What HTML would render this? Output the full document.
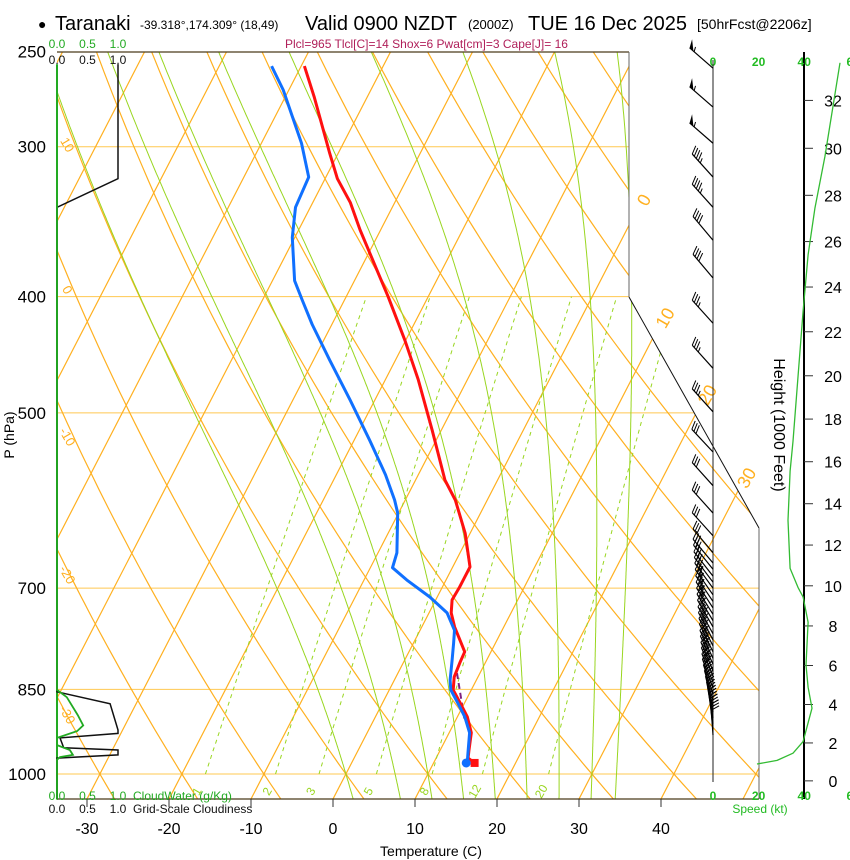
<!DOCTYPE html>
<html><head><meta charset="utf-8"><title>Taranaki Skew-T</title>
<style>
html,body{margin:0;padding:0;background:#fff;}
svg{display:block;font-family:"Liberation Sans",sans-serif;}
</style></head>
<body>
<svg id="chart" width="850" height="860" viewBox="0 0 850 860" xmlns="http://www.w3.org/2000/svg">
<defs><clipPath id="plotclip"><polygon points="57,52 629,52 629,297 759,528 759,799 57,799"/></clipPath></defs>
<rect width="850" height="860" fill="#fff"/>
<g>
<text x="38" y="29" font-size="14">●</text>
<text x="55" y="30" font-size="20">Taranaki</text>
<text x="140" y="29" font-size="12">-39.318°,174.309° (18,49)</text>
<text x="305" y="30" font-size="20">Valid 0900 NZDT</text>
<text x="468" y="29" font-size="13">(2000Z)</text>
<text x="528" y="30" font-size="20">TUE 16 Dec 2025</text>
<text x="697" y="29" font-size="14">[50hrFcst@2206z]</text>
<text x="285" y="48" font-size="12" fill="#b0205a">Plcl=965 Tlcl[C]=14 Shox=6 Pwat[cm]=3 Cape[J]= 16</text>
</g>
<g id="grid" clip-path="url(#plotclip)"></g>
<g id="fg"></g>
</svg>
<script>
// ---- data ----
const pressureLevels = [250,300,400,500,700,850,1000];
const tempTicks = [-30,-20,-10,0,10,20,30,40];
const isothermLabels = [0,10,20,30];
const mixingRatios = [1,2,3,5,8,12,20];
const thetaWs = [0,6,10,14,18,22,26,30,33];
const heightTicks = [0,2,4,6,8,10,12,14,16,18,20,22,24,26,28,30,32];
const speedTickLabels = ["0","20","40","6"];
const speedTickVals = [0,20,40,60];

const tempP = [257,273,304,319,334,352,400,435,469,517,569,591,630,672,698,716,734,754,791,808,830,851,873,896,924,955,970];
const tempT = [-49.6,-46.4,-41.0,-38.5,-35.4,-32.5,-24.9,-20.1,-16.0,-11.1,-6.4,-3.9,-0.6,2.1,2.1,2.0,2.7,4.0,6.8,6.9,7.1,7.8,9.5,11.2,12.7,13.5,13.9];
const dewP = [257,269,298,318,337,357,388,403,422,452,488,527,563,591,606,654,673,689,712,734,759,778,804,835,851,873,896,924,955,979];
const dewT = [-53.6,-50.7,-45.1,-42.1,-41.8,-40.3,-37.3,-35.1,-32.4,-28.0,-23.0,-18.1,-14.0,-11.3,-10.1,-7.7,-7.3,-4.8,-0.9,2.2,4.2,4.9,5.8,6.8,7.5,9.2,10.9,12.5,13.4,14.1];
const sfcP = 979, sfcT = 15.0, sfcTd = 14.1;
const parcelP = [824,902];
const parcelT = [7.2,11.1];

const cloudP = [256,319,337,854,874,919,925,933,951,955,964,970,1049];
const cloudV = [1,1,0,0,0.87,1,1,0.05,0.11,1,1,0,0];
const cwP = [256,851,863,893,911,921,933,946,955,964,968,973,1049];
const cwV = [0,0,0.16,0.34,0.43,0.33,0,0,0.21,0.26,0.05,0,0];

const barbP = [258,278,298,318,337,359,386,421,459,499,539,575,606,633,654,667,675,684,692,700,709,718,727,736,745,754,764,773,782,791,801,810,820,829,839,848,858,868,878,888,898,908,918,928];
const barbSpd = [55,55,55,45,45,40,40,35,35,35,30,30,30,30,30,30,30,30,30,35,35,35,35,35,35,35,40,40,40,40,40,40,40,40,40,40,40,40,40,40,40,35,35,30];
const barbDir = [311,311,311,318,318,320,320,318,318,318,317,318,318,318,320,320,321,322,323,324,325,326,327,328,329,330,331,332,333,334,335,336,337,338,339,340,342,344,346,348,350,352,354,356];

const spdH = [33.55,29.65,27.44,25.42,22.93,16.96,15.55,13.2,10.86,9.92,9.45,8.18,6.02,4.89,3.81,2.07,1.46,1.08,0.89];
const spdV = [55.7,49.1,44.7,41.7,39.5,35.1,33.8,32.9,33.8,37.3,39.5,41.7,40.8,41.7,43.4,39.5,35.1,28.1,19.3];

// ---- axis functions ----
const NS='http://www.w3.org/2000/svg';
function Y(p){return 774-521*Math.log(1000/p);}
function X(T,p){return 333+8.2*T+0.516*(799-Y(p));}
function Yh(kft){const hm=kft*304.8;const p=1013.25*Math.pow(1-2.25577e-5*hm,5.25588);return Y(p);}
function SX(s){return 713+2.28*s;}
function CX(v){return 57+61*v;}
function mk(tag,attrs,parent){const e=document.createElementNS(NS,tag);for(const k in attrs)e.setAttribute(k,attrs[k]);parent.appendChild(e);return e;}
function pl(pts){return pts.map(q=>q[0].toFixed(1)+','+q[1].toFixed(1)).join(' ');}
const grid=document.getElementById('grid');
const fg=document.getElementById('fg');
const OR='#ffb020', GR='#99d620';

pressureLevels.forEach(p=>{ if(p===250) return;
 const l=mk('line',{x1:57,x2:760,y1:Y(p),y2:Y(p),stroke:'#ffc850','stroke-width':1},grid);
 
 
});
for(let T=-110;T<=50;T+=10){
 const l=mk('line',{x1:X(T,1049),y1:Y(1049),x2:X(T,250),y2:Y(250),stroke:OR,'stroke-width':1.2},grid);
 
 
}
for(let th=-40;th<=170;th+=10){
 const pts=[];for(let p=1050;p>=245;p-=10){const T=(th+273.15)*Math.pow(p/1000,0.2857)-273.15;pts.push([X(T,p),Y(p)]);}
 const l=mk('polyline',{points:pl(pts),fill:'none',stroke:OR,'stroke-width':1.2},grid);
 
 
}
function es(T){return 6.112*Math.exp(17.67*T/(T+243.5));}
function dTdp(T,p){const Tk=T+273.15;const e=es(T);const rs=0.622*e/(p-e);return (287*Tk+2.5e6*rs)/(p*(1005+2.5e6*2.5e6*rs*0.622/(287*Tk*Tk)));}
thetaWs.forEach(tw=>{
 const up=[];let T=tw;for(let p=1000;p>=250;p-=2){up.push([X(T,p),Y(p)]);T-=dTdp(T,p)*2;}
 const dn=[];T=tw;for(let p=1000;p<=1050;p+=2){dn.push([X(T,p),Y(p)]);T+=dTdp(T,p)*2;}
 const pts=dn.reverse().concat(up);
 const l=mk('polyline',{points:pl(pts),fill:'none',stroke:GR,'stroke-width':1},grid);
 
 
});
function Tw(w,p){const e=w*p/(622+w);const a=Math.log(e/6.112);return 243.5*a/(17.67-a);}
mixingRatios.forEach(w=>{
 const pts=[];for(let p=1000;p>=400;p-=10){pts.push([X(Tw(w,p),p),Y(p)]);}
 const l=mk('polyline',{points:pl(pts),fill:'none',stroke:GR,'stroke-width':1,'stroke-dasharray':'4,4'},grid);
 
 
 const lx=X(Tw(w,1030),1030), ly=Y(1030)+4;
 const t=mk('text',{x:lx,y:ly,'font-size':12,fill:GR,'text-anchor':'middle',transform:`rotate(-60 ${lx} ${ly})`},fg);
 t.textContent=w;
 
 
});
{const pts=parcelP.map((p,i)=>[X(parcelT[i],p),Y(p)]);
 const l=mk('polyline',{points:pl(pts),fill:'none',stroke:'#802080','stroke-width':2,'stroke-dasharray':'6,4'},grid);
 
 }
{const pts=tempP.map((p,i)=>[X(tempT[i],p),Y(p)]);pts.push([X(sfcT,sfcP),Y(sfcP)]);
 const l=mk('polyline',{points:pl(pts),fill:'none',stroke:'#ff1010','stroke-width':3,'stroke-linejoin':'round'},grid);
 
 }
{const pts=dewP.map((p,i)=>[X(dewT[i],p),Y(p)]);
 const l=mk('polyline',{points:pl(pts),fill:'none',stroke:'#1070ff','stroke-width':3,'stroke-linejoin':'round'},grid);
 
 }
{const r=mk('rect',{x:X(sfcT,sfcP)-4,y:Y(sfcP)-4,width:8,height:8,fill:'#ff1010'},fg);
 
 
 const c=mk('circle',{cx:X(sfcTd,sfcP)-1,cy:Y(sfcP),r:4.5,fill:'#1070ff'},fg);
 
 }

[[57,52,629,52,'#4a3a1a',1.2],[629,52,629,297,'#666',1],[629,297,759,528,'#111',1],[759,528,759,799,'#666',1],[57,799,759,799,'#4a3a1a',1.2]].forEach(b=>{
 const l=mk('line',{x1:b[0],y1:b[1],x2:b[2],y2:b[3],stroke:b[4],'stroke-width':b[5]},fg);
 
 
});
pressureLevels.forEach(p=>{
 const t=mk('text',{x:46,y:Y(p)+6,'font-size':17,'text-anchor':'end'},fg);
 t.textContent=p;
 
 
});
tempTicks.forEach(T=>{
 const x=333+8.2*T;
 const l=mk('line',{x1:x,x2:x,y1:799,y2:807,stroke:'#333'},fg);
 
 
 const t=mk('text',{x:x,y:834,'font-size':16,'text-anchor':'middle'},fg);
 t.textContent=T;
 
 
});
isothermLabels.forEach(T=>{
 const yy=[200,318,395,478][isothermLabels.indexOf(T)];
 const x=333+8.2*T+0.516*(799-yy)+2;
 const t=mk('text',{x:x,y:yy+6,'font-size':18,fill:OR,'text-anchor':'middle',transform:`rotate(-60 ${x} ${yy})`},fg);
 t.textContent=T;
 
 
});
[["10",145],["0",290],["-10",437],["-20",575],["-30",715]].forEach(d=>{
 const t=mk('text',{x:67,y:d[1]+4,'font-size':13,fill:OR,'text-anchor':'middle',transform:`rotate(60 67 ${d[1]})`},fg);
 t.textContent=d[0];
 
 
});
{const l=mk('line',{x1:57,y1:65,x2:57,y2:799,stroke:'#22aa22','stroke-width':2},fg);
 
 
 const a=mk('polyline',{points:pl(cloudP.map((p,i)=>[CX(cloudV[i]),Y(p)])),fill:'none',stroke:'#111','stroke-width':1.5},fg);
 
 
 const b=mk('polyline',{points:pl(cwP.map((p,i)=>[CX(cwV[i]),Y(p)])),fill:'none',stroke:'#22aa22','stroke-width':1.8},fg);
 
 }
[["0.0",0],["0.5",0.5],["1.0",1]].forEach(s=>{
 [[48,'#22aa22'],[64,'#111'],[800,'#22aa22'],[813,'#111']].forEach(r=>{
  const t=mk('text',{x:CX(s[1]),y:r[0],'font-size':12,fill:r[1],'text-anchor':'middle'},fg);
  t.textContent=s[0];
  
  
 });
});
{const t=mk('text',{x:133,y:800,'font-size':12,fill:'#22aa22'},fg);t.textContent='CloudWater (g/Kg)';
 
 
 const u=mk('text',{x:133,y:813,'font-size':12,fill:'#111'},fg);u.textContent='Grid-Scale Cloudiness';
 
 }
{const t=mk('text',{x:14,y:435,'font-size':14,'text-anchor':'middle',transform:'rotate(-90 14 435)'},fg);t.textContent='P (hPa)';
 
 
 const u=mk('text',{x:431,y:856,'font-size':14,'text-anchor':'middle'},fg);u.textContent='Temperature (C)';
 
 
 const v=mk('text',{x:774,y:425,'font-size':16,'text-anchor':'middle',transform:'rotate(90 774 425)'},fg);v.textContent='Height (1000 Feet)';
 
 
 const w=mk('text',{x:760,y:813,'font-size':12,fill:'#22bb22','text-anchor':'middle'},fg);w.textContent='Speed (kt)';
 
 }
{const l=mk('line',{x1:804,y1:52,x2:804,y2:799,stroke:'#000','stroke-width':2},fg);
 
 }
heightTicks.forEach(h=>{
 const y=Yh(h);
 const l=mk('line',{x1:804,x2:813,y1:y,y2:y,stroke:'#333'},fg);
 
 
 const t=mk('text',{x:833,y:y+6,'font-size':16,'text-anchor':'middle'},fg);
 t.textContent=h;
 
 
});
speedTickVals.forEach((s,i)=>{
 [66,800].forEach(yy=>{
  const t=mk('text',{x:SX(s),y:yy,'font-size':12,'font-weight':'bold',fill:'#22bb22','text-anchor':'middle'},fg);
  t.textContent=speedTickLabels[i];
  
  
 });
});
{const l=mk('polyline',{points:pl(spdH.map((h,i)=>[SX(spdV[i]),Yh(h)])),fill:'none',stroke:'#33bb33','stroke-width':1.3,'stroke-linejoin':'round'},fg);
 
 }
{const l=mk('line',{x1:713,y1:60,x2:713,y2:782,stroke:'#222','stroke-width':1},fg);
 
 }
barbP.forEach((p,i)=>{
 const y=Y(p), d=barbDir[i]*Math.PI/180;
 const ux=Math.sin(d), uy=-Math.cos(d), L=31;
 const tx=713+ux*L, ty=y+uy*L;
 const g=mk('g',{},fg);
 
 
 mk('line',{x1:713,y1:y,x2:tx,y2:ty,stroke:'#000','stroke-width':1.2},g);
 const a=Math.atan2(uy,ux)+65*Math.PI/180, vx=Math.cos(a), vy=Math.sin(a);
 let s=Math.round(barbSpd[i]/5)*5, pos=0;
 const P=k=>[tx-ux*k,ty-uy*k];
 while(s>=50){const A=P(pos),B=P(pos+5);mk('polygon',{points:pl([A,[A[0]+vx*9,A[1]+vy*9],B]),fill:'#000'},g);pos+=6;s-=50;}
 while(s>=10){const A=P(pos);mk('line',{x1:A[0],y1:A[1],x2:A[0]+vx*9,y2:A[1]+vy*9,stroke:'#000','stroke-width':1},g);pos+=3;s-=10;}
 if(s>=5){if(pos===0)pos=3;const A=P(pos);mk('line',{x1:A[0],y1:A[1],x2:A[0]+vx*5,y2:A[1]+vy*5,stroke:'#000','stroke-width':1},g);}
});
</script>
</body></html>
